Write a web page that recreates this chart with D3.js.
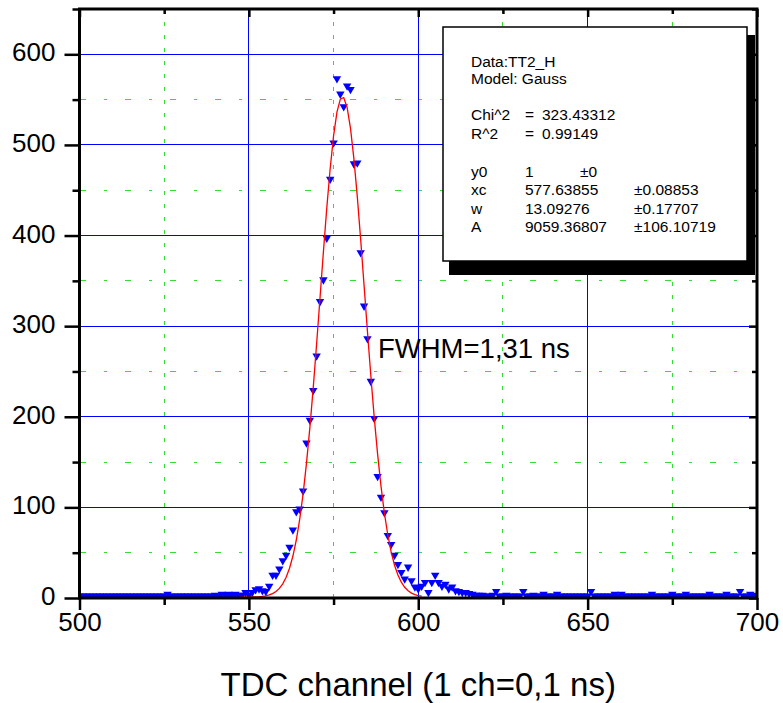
<!DOCTYPE html>
<html>
<head>
<meta charset="utf-8">
<title>TDC channel - Gauss fit</title>
<script src="https://cdn.jsdelivr.net/npm/d3@7"></script>
<style>
  body { margin: 0; background: #fff; }
  svg { display: block; font-family: "Liberation Sans", Arial, sans-serif; }
</style>
</head>
<body>
<div id="chart"></div>
<script>
// measured counts, one per TDC channel starting at 500
const firstChannel = 500;
const counts = [
  1, 1, 1, 1, 1, 1, 1, 1, 1, 1,
  1, 1, 1, 1, 1, 1, 1, 1, 1, 1,
  1, 1, 1, 1, 1, 1, 3, 1, 1, 1,
  1, 1, 1, 1, 1, 1, 1, 1, 1, 1,
  2, 1, 3, 2, 3, 2, 3, 2, 2, 5,
  2, 5, 8, 9, 7, 6, 12, 24, 24, 31,
  40, 46, 55, 74, 94, 97, 117, 170, 195, 228,
  266, 326, 350, 396, 461, 501, 572, 555, 541, 564,
  560, 478, 479, 380, 321, 285, 238, 197, 133, 110,
  93, 68, 58, 46, 36, 27, 20, 33, 18, 11,
  9, 12, 16, 5, 16, 24, 16, 12, 14, 9,
  11, 7, 6, 5, 5, 4, 3, 2, 2, 2,
  1, 1, 2, 6, 1, 1, 2, 1, 1, 1,
  1, 6, 1, 1, 2, 1, 1, 3, 1, 1,
  1, 3, 1, 1, 1, 1, 1, 1, 1, 1,
  1, 6, 1, 1, 1, 1, 1, 1, 3, 1,
  3, 1, 1, 1, 1, 1, 1, 1, 1, 3,
  1, 1, 1, 1, 1, 3, 1, 1, 1, 3,
  1, 1, 1, 1, 1, 1, 3, 1, 1, 1,
  1, 3, 1, 1, 1, 6, 1, 1, 3, 1,
  2
];

// Gauss fit curve, one point per channel starting at 547
const fitStart = 547;
const fitValues = [
  1.0, 1.02, 1.04, 1.07, 1.14, 1.26, 1.46, 1.81, 2.40, 3.34,
  4.84, 7.14, 10.6, 15.6, 22.8, 32.8, 46.3, 64.0, 86.7, 114.7,
  148.5, 187.8, 232.2, 280.5, 331.1, 382.0, 430.5, 474.0, 510.0, 536.1,
  550.5, 552.3, 541.3, 518.3, 484.9, 443.2, 395.8, 345.3, 294.4, 245.2,
  199.6, 158.8, 123.5, 93.9, 69.8, 50.8, 36.2, 25.3, 17.4, 11.8,
  8.0, 5.4, 3.7, 2.6, 1.95
];

const xTicks = [500, 550, 600, 650, 700];
const xMinorTicks = [525, 575, 625, 675];
const yTicks = [0, 100, 200, 300, 400, 500, 600];
const yMinorTicks = [50, 150, 250, 350, 450, 550, 650];

const legendHeader = ["Data:TT2_H", "Model: Gauss"];
const statNames = ["Chi^2", "R^2"];
const statValues = ["323.43312", "0.99149"];
const paramNames = ["y0", "xc", "w", "A"];
const paramValues = ["1", "577.63855", "13.09276", "9059.36807"];
const paramErrors = ["±0", "±0.08853", "±0.17707", "±106.10719"];

const xTitle = "TDC channel (1 ch=0,1 ns)";
const note = "FWHM=1,31 ns";

const width = 783, height = 703;
const plot = { left: 79.5, right: 757, top: 9, bottom: 598 };

const svg = d3.select("#chart").append("svg")
    .attr("width", width)
    .attr("height", height);

const x = d3.scaleLinear().domain([500, 700]).range([plot.left, plot.right]);
const y = d3.scaleLinear().domain([0, 650]).range([plot.bottom, plot.top]);

// grid
const grid = svg.append("g").attr("shape-rendering", "crispEdges");
grid.selectAll(".vminor").data(xMinorTicks).enter().append("line")
    .attr("x1", d => x(d)).attr("x2", d => x(d))
    .attr("y1", plot.top).attr("y2", plot.bottom)
    .attr("stroke", "#33dd33").attr("stroke-dasharray", "4,9");
grid.selectAll(".hminor").data(yMinorTicks.slice(0, -1)).enter().append("line")
    .attr("x1", plot.left).attr("x2", plot.right)
    .attr("y1", d => y(d)).attr("y2", d => y(d))
    .attr("stroke", "#33dd33").attr("stroke-dasharray", "6,18,3,18");
grid.selectAll(".vmajor").data(xTicks.slice(1, -1)).enter().append("line")
    .attr("x1", d => x(d)).attr("x2", d => x(d))
    .attr("y1", plot.top).attr("y2", plot.bottom)
    .attr("stroke", "#0000ff");
grid.selectAll(".hmajor").data(yTicks.slice(1)).enter().append("line")
    .attr("x1", plot.left).attr("x2", plot.right)
    .attr("y1", d => y(d)).attr("y2", d => y(d))
    .attr("stroke", "#0000ff");

// data + fit, clipped to plot area
svg.append("clipPath").attr("id", "clip").append("rect")
    .attr("x", plot.left).attr("y", plot.top)
    .attr("width", plot.right - plot.left).attr("height", plot.bottom - plot.top + 1);

const area = svg.append("g").attr("clip-path", "url(#clip)");

area.selectAll("path.pt")
    .data(counts)
    .enter().append("path")
    .attr("class", "pt")
    .attr("d", "M-4.2,-3.5L4.2,-3.5L0,3.8Z")
    .attr("transform", (d, i) => `translate(${x(firstChannel + i)},${y(d)})`)
    .attr("fill", "#0000ff");

const fitLine = d3.line()
    .x((d, i) => x(fitStart + i))
    .y(d => y(d));

area.append("path")
    .datum(fitValues)
    .attr("d", fitLine)
    .attr("fill", "none")
    .attr("stroke", "#ff0000")
    .attr("stroke-width", 1.3);

// axes
function styleAxis(g) {
    g.select(".domain").remove();
    g.selectAll(".tick line").attr("stroke", "#000").attr("stroke-width", 2.5);
    g.selectAll("text").attr("fill", "#000").style("font-size", "26px")
        .style("font-family", "'Liberation Sans', Arial, sans-serif");
}

svg.append("g")
    .attr("transform", `translate(${plot.left},0)`)
    .call(d3.axisLeft(y).tickValues(yTicks).tickSize(15).tickPadding(9).tickSizeOuter(0))
    .call(styleAxis)
    .selectAll("text").attr("dy", "0.25em");
svg.append("g")
    .attr("transform", `translate(${plot.left},0)`)
    .call(d3.axisLeft(y).tickValues(yMinorTicks).tickSize(7).tickFormat("").tickSizeOuter(0))
    .call(styleAxis);

svg.append("g")
    .attr("transform", `translate(0,${plot.bottom})`)
    .call(d3.axisBottom(x).tickValues(xTicks).tickSize(12).tickPadding(3).tickSizeOuter(0))
    .call(styleAxis);
svg.append("g")
    .attr("transform", `translate(0,${plot.bottom})`)
    .call(d3.axisBottom(x).tickValues(xMinorTicks).tickSize(7).tickFormat("").tickSizeOuter(0))
    .call(styleAxis);

// inward ticks on top and right
svg.append("g")
    .attr("transform", `translate(0,${plot.top})`)
    .call(d3.axisTop(x).tickValues(xTicks).tickSize(-8).tickFormat("").tickSizeOuter(0))
    .call(styleAxis);
svg.append("g")
    .attr("transform", `translate(0,${plot.top})`)
    .call(d3.axisTop(x).tickValues(xMinorTicks).tickSize(-5).tickFormat("").tickSizeOuter(0))
    .call(styleAxis);
svg.append("g")
    .attr("transform", `translate(${plot.right},0)`)
    .call(d3.axisRight(y).tickValues(yTicks).tickSize(-8).tickFormat("").tickSizeOuter(0))
    .call(styleAxis);
svg.append("g")
    .attr("transform", `translate(${plot.right},0)`)
    .call(d3.axisRight(y).tickValues(yMinorTicks).tickSize(-5).tickFormat("").tickSizeOuter(0))
    .call(styleAxis);

svg.append("rect")
    .attr("x", plot.left).attr("y", plot.top)
    .attr("width", plot.right - plot.left).attr("height", plot.bottom - plot.top)
    .attr("fill", "none").attr("stroke", "#000").attr("stroke-width", 3);

// axis title
svg.append("text")
    .attr("x", (plot.left + plot.right) / 2)
    .attr("y", 696)
    .attr("text-anchor", "middle")
    .style("font-size", "33px")
    .text(xTitle);

// FWHM note
svg.append("text")
    .attr("x", 378).attr("y", 358)
    .style("font-size", "27.5px")
    .text(note);

// fit parameter box
const box = { x: 443, y: 27, w: 304, h: 234 };
svg.append("rect")
    .attr("x", box.x + 6).attr("y", box.y + 8)
    .attr("width", box.w + 2).attr("height", box.h + 6)
    .attr("fill", "#000");
svg.append("rect")
    .attr("x", box.x).attr("y", box.y)
    .attr("width", box.w).attr("height", box.h)
    .attr("fill", "#fff").attr("stroke", "#000").attr("stroke-width", 1.5);

const info = svg.append("g").style("font-size", "15.5px");
const col1 = box.x + 28, col2 = box.x + 82, col3 = box.x + 191;

legendHeader.forEach((t, i) => {
    info.append("text").attr("x", col1).attr("y", 66.5 + i * 17).text(t);
});
statNames.forEach((t, i) => {
    const yy = 119.5 + i * 19;
    info.append("text").attr("x", col1).attr("y", yy).text(t);
    info.append("text").attr("x", col2).attr("y", yy).text("=");
    info.append("text").attr("x", col2 + 17).attr("y", yy).text(statValues[i]);
});
paramNames.forEach((t, i) => {
    const yy = 177 + i * 18.3;
    info.append("text").attr("x", col1).attr("y", yy).text(t);
    info.append("text").attr("x", col2).attr("y", yy).text(paramValues[i]);
    info.append("text").attr("x", i === 0 ? box.x + 137 : col3).attr("y", yy).text(paramErrors[i]);
});
</script>
</body>
</html>
